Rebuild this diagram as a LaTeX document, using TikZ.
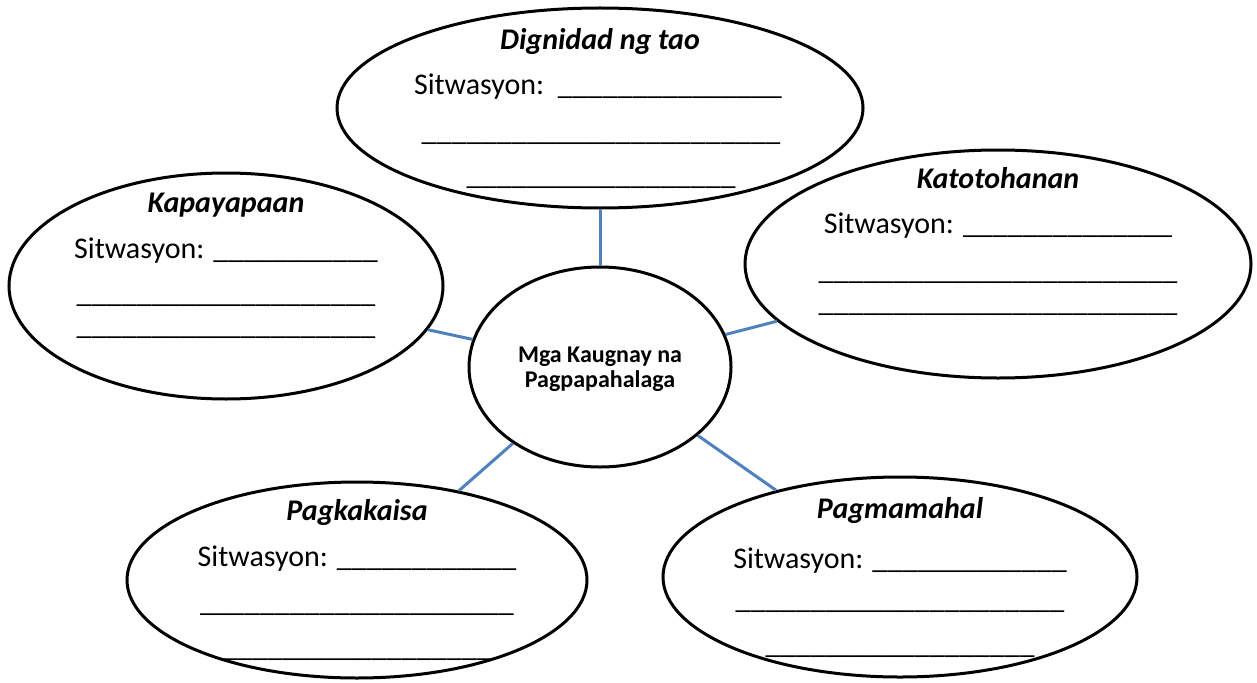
\documentclass[tikz,border=0pt]{standalone}
\usepackage{fontspec}
\setmainfont{Carlito}
\usetikzlibrary{shapes.geometric}
\definecolor{linyaasul}{RGB}{79,129,189}
\newcommand{\linya}[1]{\foreach \k in {1,...,#1}{\_}}

\begin{document}
\begin{tikzpicture}[x=1pt, y=-1pt,
  bilog/.style = {ellipse, draw, line width=3pt, inner sep=0pt},
  ugnay/.style = {line width=3pt, draw=linyaasul},
  titulo/.style = {anchor=base, inner sep=0pt, font=\fontsize{30}{36}\selectfont\bfseries\itshape},
  sulat/.style = {anchor=base, inner sep=0pt, font=\fontsize{30}{36}\selectfont},
  gitnasulat/.style = {anchor=base, inner sep=0pt, font=\fontsize{24}{29}\selectfont\bfseries},]

\useasboundingbox (0,0) rectangle (1257,682);

\node[bilog, minimum width=262, minimum height=200] (gitna) at (600,367) {};
\node[bilog, minimum width=526, minimum height=200] (dignidad) at (600,108) {};
\node[bilog, minimum width=434, minimum height=226] (kapayapaan) at (226,286) {};
\node[bilog, minimum width=506, minimum height=228] (katotohanan) at (998,264) {};
\node[bilog, minimum width=460, minimum height=196] (pagkakaisa) at (357,580) {};
\node[bilog, minimum width=474, minimum height=200] (pagmamahal) at (900,577) {};

\draw[ugnay] (gitna) -- (dignidad);
\draw[ugnay] (gitna) -- (kapayapaan);
\draw[ugnay] (gitna) -- (katotohanan);
\draw[ugnay] (gitna) -- (pagkakaisa);
\draw[ugnay] (gitna) -- (pagmamahal);

\node[gitnasulat] (g1) at (600,362) {Mga Kaugnay na};
\node[gitnasulat] (g2) at (600,387) {Pagpapahalaga};

\node[titulo] (d0) at (600,50) {Dignidad ng tao};
\node[sulat] (d1) at (598,95) {Sitwasyon:~~\linya{15}};
\node[sulat] (d2) at (601,140) {\linya{24}};
\node[sulat] (d3) at (601,184) {\linya{18}};

\node[titulo] (k0) at (226,212) {Kapayapaan};
\node[sulat] (k1) at (226,258) {Sitwasyon: \linya{11}};
\node[sulat] (k2) at (226,302) {\linya{20}};
\node[sulat] (k3) at (226,334) {\linya{20}};

\node[titulo] (t0) at (998,188) {Katotohanan};
\node[sulat] (t1) at (998,233) {Sitwasyon: \linya{14}};
\node[sulat] (t2) at (998,279) {\linya{24}};
\node[sulat] (t3) at (998,311) {\linya{24}};

\node[titulo] (p0) at (357,520) {Pagkakaisa};
\node[sulat] (p1) at (357,566) {Sitwasyon: \linya{12}};
\node[sulat] (p2) at (357,611) {\linya{21}};
\node[sulat] (p3) at (357,656) {\linya{18}};

\node[titulo] (m0) at (900,518) {Pagmamahal};
\node[sulat] (m1) at (900,568) {Sitwasyon: \linya{13}};
\node[sulat] (m2) at (900,608) {\linya{22}};
\node[sulat] (m3) at (900,653) {\linya{18}};

\end{tikzpicture}
\end{document}
